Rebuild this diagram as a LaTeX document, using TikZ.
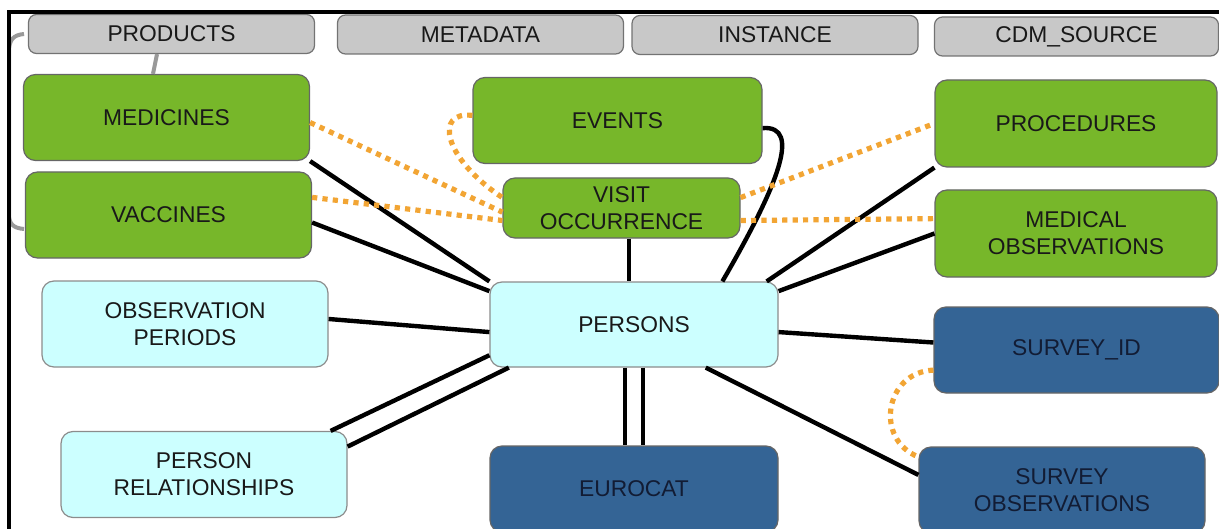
\documentclass[tikz,border=0pt]{standalone}
\usepackage{fontspec}
\setmainfont{Liberation Sans}
\definecolor{hdrgrey}{RGB}{200,200,200}
\definecolor{tablegreen}{RGB}{119,183,42}
\definecolor{personcyan}{RGB}{204,255,255}
\definecolor{surveyblue}{RGB}{52,100,149}
\definecolor{navytext}{RGB}{18,28,52}
\definecolor{linkorange}{RGB}{242,165,52}
\begin{document}
\begin{tikzpicture}[x=0.5pt, y=-0.5pt,
    tbl/.style={rectangle, rounded corners=6pt, draw, line width=0.6pt, align=center, inner sep=0pt,
        minimum width=143pt, minimum height=43pt, font=\fontsize{11.4}{13.5}\selectfont, text=black!90},
    header/.style={tbl, fill=hdrgrey, draw=black!55, rounded corners=4pt, minimum height=19.5pt},
    drug/.style={tbl, fill=tablegreen, draw=black!60},
    core/.style={tbl, fill=personcyan, draw=black!45},
    survey/.style={tbl, fill=surveyblue, draw=black!60, text=navytext},
    link/.style={line width=2.2pt, black},
    dotlink/.style={line width=2.6pt, linkorange, dash pattern=on 2.6pt off 2.6pt},
    faded/.style={line width=2pt, black!40}]
    \useasboundingbox (0,0) rectangle (1219,529);
    \node[header] (products) at (171.5,34) {PRODUCTS};
    \node[header] (metadata) at (480.5,34.5) {METADATA};
    \node[header] (instance) at (775,35) {INSTANCE};
    \node[header, minimum width=142pt] (cdmsource) at (1076.5,36.5) {CDM\_SOURCE};
    \node[drug] (medicines) at (166.5,117.5) {MEDICINES};
    \node[drug] (vaccines) at (168.5,215) {VACCINES};
    \node[drug, minimum width=144.5pt] (events) at (617.5,120.5) {EVENTS};
    \node[drug, minimum width=118.5pt, minimum height=30pt] (visit) at (621.5,208) {VISIT\\OCCURRENCE};
    \node[drug, minimum width=141pt, minimum height=43.5pt] (procedures) at (1076,123.5) {PROCEDURES};
    \node[drug, minimum width=141pt, minimum height=43.5pt] (medobs) at (1076,233.5) {MEDICAL\\OBSERVATIONS};
    \node[core] (obsperiods) at (185,324) {OBSERVATION\\PERIODS};
    \node[core] (relships) at (204,474.5) {PERSON\\RELATIONSHIPS};
    \node[core, minimum width=144pt, minimum height=42.5pt] (persons) at (634,324.5) {PERSONS};
    \node[survey, minimum width=144pt] (eurocat) at (634,489) {EUROCAT};
    \node[survey, minimum width=142.5pt] (surveyid) at (1076.5,350) {SURVEY\_ID};
    \node[survey] (surveyobs) at (1062,490) {SURVEY\\OBSERVATIONS};
    \draw[faded] (24,34) .. controls (13,35) and (9,40) .. (9,52) -- (9,214) .. controls (9,224) and (13,228) .. (24,229);
    \draw[faded] ([xshift=-7.25pt]products.south) -- ([xshift=-6.75pt]medicines.north);
    \draw[link] (medicines.south east) -- (persons.north west);
    \draw[link] (vaccines.-3) -- (persons.167);
    \draw[link] (obsperiods.2) -- (persons.183);
    \draw[link] (relships.19) -- (persons.192);
    \draw[link] (relships.11) -- (persons.199);
    \draw[link] (visit.-76) -- (visit.-76 |- persons.north);
    \draw[link] (events.-3) .. controls +(40,-3) and +(55,-95) .. (persons.26);
    \draw[link] (procedures.south west) -- (persons.18);
    \draw[link] (medobs.west) -- (persons.13);
    \draw[link] (persons.-3) -- (surveyid.177);
    \draw[link] (persons.-31) -- (surveyobs.174);
    \draw[link] ([xshift=-4.5pt]persons.south) -- ([xshift=-4.5pt]eurocat.north);
    \draw[link] ([xshift=4.5pt]persons.south) -- ([xshift=4.5pt]eurocat.north);
    \draw[dotlink] (medicines.-2) -- (visit.182);
    \draw[dotlink] (vaccines.7) -- (visit.186);
    \draw[dotlink] (events.178) .. controls +(-38,-5) and +(-60,-40) .. (visit.175);
    \draw[dotlink] (visit.5) -- (procedures.west);
    \draw[dotlink] (visit.-6) -- (medobs.174);
    \draw[dotlink] (surveyid.188) .. controls +(-49,2) and +(-44,-17) .. (surveyobs.167);
    \draw[line width=1.6pt] (9,540) |- (1230,12);
\end{tikzpicture}
\end{document}
